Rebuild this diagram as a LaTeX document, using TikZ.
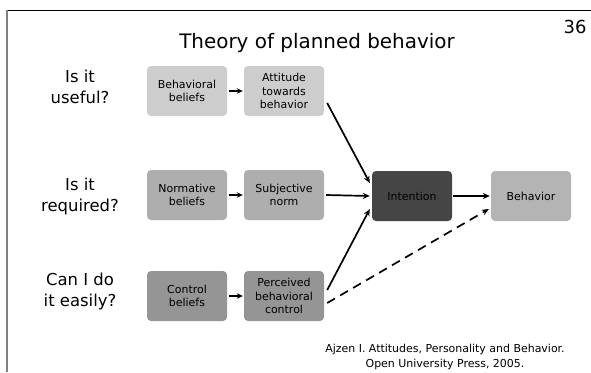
\documentclass[tikz,border=0pt]{standalone}
\usepackage{fontspec}
\setmainfont{DejaVu Sans}
\usetikzlibrary{arrows.meta}
\definecolor{rowA}{HTML}{CDCDCD}
\definecolor{rowB}{HTML}{AEAEAE}
\definecolor{rowC}{HTML}{959595}
\definecolor{intc}{HTML}{454545}
\definecolor{behc}{HTML}{B4B4B4}
\tikzset{
  box/.style={rounded corners=4bp, minimum width=80bp, minimum height=50bp, inner sep=1bp,
    align=center, font=\fontsize{11}{13.5}\selectfont, text=black},
  question/.style={align=center, font=\fontsize{16.5}{21}\selectfont},
  conn/.style={line width=1.7pt, -{Stealth[length=7bp,width=6bp]}},
  shortconn/.style={line width=1.7pt, -{Stealth[length=6bp,width=5.5bp]}},
}
\begin{document}
\begin{tikzpicture}[x=1bp,y=-1bp]
\useasboundingbox (0,0) rectangle (591,372);
\fill[white] (0,0) rectangle (591,372);
% frame
\draw[line width=0.9pt] (7,10) -- (591,10);
\draw[line width=1.3pt, gray] (7,10) -- (7,372);
\node[font=\fontsize{18}{20}\selectfont, anchor=east] (pg) at (590,27) {36};
\node[font=\fontsize{20}{22}\selectfont] (title) at (317,43) {Theory of planned behavior};
% questions
\node[question] (q1) at (80,87) {Is it\\useful?};
\node[question] (q2) at (80,196) {Is it\\required?};
\node[question] (q3) at (80,291) {Can I do\\it easily?};
% boxes
\node[box, fill=rowA] (bb) at (187,91) {Behavioral\\beliefs};
\node[box, fill=rowA] (att) at (284,91) {Attitude\\towards\\behavior};
\node[box, fill=rowB] (nb) at (187,195) {Normative\\beliefs};
\node[box, fill=rowB] (sn) at (284,195) {Subjective\\norm};
\node[box, fill=rowC] (cb) at (187,296) {Control\\beliefs};
\node[box, fill=rowC] (pbc) at (284,296) {Perceived\\behavioral\\control};
\node[box, fill=intc] (int) at (412,196) {Intention};
\node[box, fill=behc] (beh) at (531,196) {Behavior};
% connectors
\draw[shortconn] ([xshift=2]bb.east) -- ([xshift=-1]att.west);
\draw[shortconn] ([xshift=2]nb.east) -- ([xshift=-1]sn.west);
\draw[shortconn] ([xshift=2]cb.east) -- ([xshift=-1]pbc.west);
\draw[conn] ([shift={(3,12)}]att.east) -- ([shift={(-2,-13)}]int.west);
\draw[conn] ([xshift=2]sn.east) -- ([xshift=-2]int.west);
\draw[conn] ([shift={(3,-6)}]pbc.east) -- ([shift={(-2,13)}]int.west);
\draw[conn] ([xshift=1]int.east) -- ([xshift=-1]beh.west);
\draw[conn, dash pattern=on 9bp off 6bp] ([shift={(3,7)}]pbc.east) -- ([shift={(-2,13)}]beh.west);
% reference
\node[align=center, font=\fontsize{11}{15}\selectfont] (ref) at (445,357) {Ajzen I. Attitudes, Personality and Behavior.\\Open University Press, 2005.};
\end{tikzpicture}
\end{document}
